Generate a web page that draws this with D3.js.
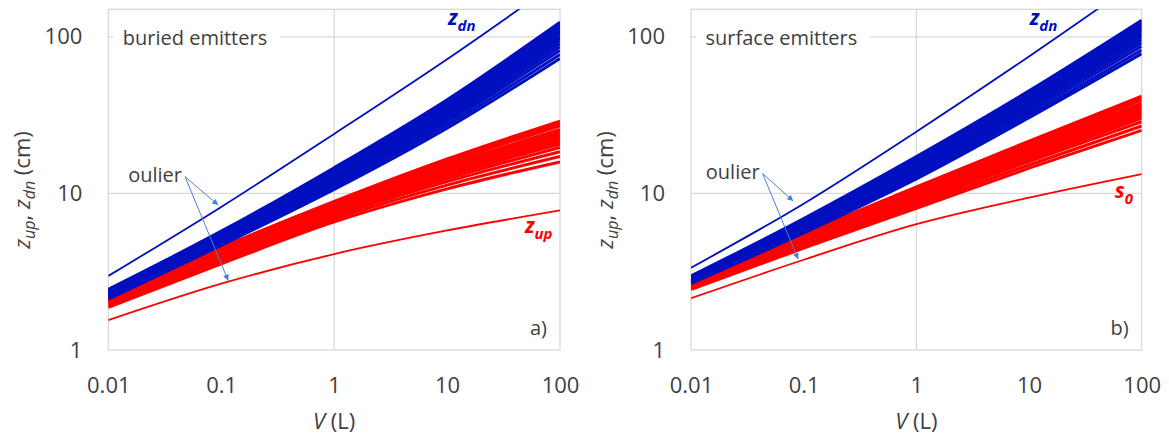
<!DOCTYPE html>
<html>
<head>
<meta charset="utf-8">
<script src="https://cdn.jsdelivr.net/npm/d3@7"></script>
<style>
  html, body { margin: 0; padding: 0; background: #fff; }
  svg { display: block; font-family: "Open Sans", sans-serif; }
</style>
</head>
<body>
<svg id="chart" width="1169" height="439"></svg>
<script>
// Emitter volumes V (L) at which every curve is sampled
const volumes = [0.01, 0.1, 1, 10, 100];

const xTicks = [0.01, 0.1, 1, 10, 100];
const xTickLabels = ["0.01", "0.1", "1", "10", "100"];
const yTicks = [1, 10, 100];
const yTickLabels = ["1", "10", "100"];

// a) buried emitters — downward extent z_dn (cm), one row per soil case
const zdnBuried = [
  [2.44, 5.74, 14.6, 39.7, 123.9],
  [2.42, 5.67, 14.3, 38.7, 120.0],
  [2.40, 5.60, 14.0, 37.8, 116.2],
  [2.38, 5.53, 13.8, 36.8, 112.6],
  [2.36, 5.46, 13.5, 35.9, 109.0],
  [2.34, 5.39, 13.3, 35.0, 105.6],
  [2.31, 5.31, 13.0, 34.0, 101.7],
  [2.29, 5.24, 12.7, 33.0, 98.0],
  [2.27, 5.16, 12.4, 32.0, 94.5],
  [2.24, 5.07, 12.1, 31.0, 90.5],
  [2.21, 4.98, 11.8, 29.8, 86.3],
  [2.18, 4.88, 11.4, 28.6, 81.8],
  [2.15, 4.76, 11.0, 27.3, 77.2],
  [2.11, 4.66, 10.6, 26.1, 72.8]
];
// a) buried emitters — upward extent z_up (cm)
const zupBuried = [
  [2.19, 4.52, 8.89, 16.6, 29.0],
  [2.17, 4.45, 8.73, 16.1, 28.0],
  [2.15, 4.39, 8.58, 15.7, 27.0],
  [2.12, 4.30, 8.35, 15.1, 25.6],
  [2.10, 4.23, 8.20, 14.7, 24.7],
  [2.08, 4.17, 8.05, 14.3, 23.8],
  [2.06, 4.11, 7.91, 13.9, 23.0],
  [2.04, 4.05, 7.77, 13.6, 22.2],
  [2.02, 4.00, 7.62, 13.2, 21.4],
  [2.00, 3.94, 7.49, 12.9, 20.6],
  [1.98, 3.86, 7.31, 12.4, 19.7],
  [1.95, 3.77, 7.09, 11.9, 18.5],
  [1.91, 3.66, 6.84, 11.3, 17.2],
  [1.87, 3.55, 6.58, 10.7, 15.9]
];
const zdnBuriedOutlier = [2.97, 8.2, 24.0, 72.0, 230.0];
const zupBuriedOutlier = [1.55, 2.65, 4.10, 5.8, 7.8];

// b) surface emitters — downward extent z_dn (cm)
const zdnSurface = [
  [2.97, 6.92, 17.2, 45.2, 127.6],
  [2.95, 6.83, 16.9, 44.1, 124.0],
  [2.93, 6.75, 16.5, 43.1, 120.3],
  [2.91, 6.66, 16.2, 42.1, 116.9],
  [2.89, 6.58, 15.9, 41.1, 113.5],
  [2.87, 6.49, 15.6, 40.2, 110.2],
  [2.85, 6.40, 15.2, 39.1, 106.5],
  [2.83, 6.30, 14.9, 38.0, 102.9],
  [2.81, 6.21, 14.6, 37.0, 99.4],
  [2.78, 6.11, 14.2, 35.8, 95.6],
  [2.76, 5.99, 13.8, 34.6, 91.5],
  [2.73, 5.87, 13.4, 33.2, 87.1],
  [2.69, 5.73, 12.9, 31.8, 82.5],
  [2.66, 5.60, 12.4, 30.5, 78.2]
];
// b) surface emitters — surface wetted radius s_0 (cm)
const s0Surface = [
  [2.80, 5.56, 11.0, 21.6, 41.8],
  [2.78, 5.49, 10.8, 21.1, 40.5],
  [2.75, 5.42, 10.6, 20.6, 39.3],
  [2.72, 5.31, 10.3, 19.9, 37.6],
  [2.70, 5.24, 10.1, 19.4, 36.5],
  [2.67, 5.17, 9.90, 18.9, 35.4],
  [2.65, 5.11, 9.71, 18.5, 34.4],
  [2.63, 5.04, 9.54, 18.0, 33.3],
  [2.61, 4.97, 9.36, 17.6, 32.4],
  [2.59, 4.91, 9.19, 17.2, 31.4],
  [2.56, 4.82, 8.96, 16.6, 30.2],
  [2.52, 4.72, 8.69, 16.0, 28.7],
  [2.48, 4.60, 8.37, 15.2, 27.0],
  [2.44, 4.47, 8.04, 14.5, 25.3]
];
const zdnSurfaceOutlier = [3.35, 8.6, 24.8, 75.0, 237.0];
const s0SurfaceOutlier = [2.14, 3.77, 6.36, 9.4, 13.3];

// "oulier" callouts: arrow tail and two heads, in (V, cm)
const calloutBuried = { tail: [0.0478, 12.8], heads: [[0.094, 8.43], [0.1154, 2.77]] };
const calloutSurface = { tail: [0.0432, 13.4], heads: [[0.0807, 8.95], [0.0893, 3.80]] };

const BLUE = "#0010c0";
const RED = "#ff0000";
const GRID = "#d9d9d9";
const INK = "#404040";
const ARROW = "#4a80cc";

const svg = d3.select("#chart");
const defs = svg.append("defs");
defs.append("marker")
  .attr("id", "arrowHead")
  .attr("viewBox", "0 0 10 10")
  .attr("refX", 10).attr("refY", 5)
  .attr("markerWidth", 8).attr("markerHeight", 6)
  .attr("markerUnits", "userSpaceOnUse")
  .attr("orient", "auto")
  .append("path").attr("d", "M0,0 L10,5 L0,10 Z").attr("fill", ARROW);

const TOP = 9.3, BOTTOM = 350;

function drawPanel(cfg) {
  const x = d3.scaleLog().domain([0.01, 100]).range([cfg.left, cfg.right]);
  const y = d3.scaleLog().domain([1, 150]).range([BOTTOM, TOP]);
  const g = svg.append("g");

  defs.append("clipPath").attr("id", cfg.id + "-clip")
    .append("rect")
    .attr("x", cfg.left).attr("y", TOP)
    .attr("width", cfg.right - cfg.left).attr("height", BOTTOM - TOP);

  // gridlines
  g.selectAll(".hgrid").data([10, 100]).join("line")
    .attr("x1", cfg.left).attr("x2", cfg.right)
    .attr("y1", d => y(d)).attr("y2", d => y(d))
    .attr("stroke", GRID).attr("stroke-width", 1.3);
  g.append("line")
    .attr("x1", x(1)).attr("x2", x(1))
    .attr("y1", TOP).attr("y2", BOTTOM)
    .attr("stroke", GRID).attr("stroke-width", 1.3);
  g.append("rect")
    .attr("x", cfg.left).attr("y", TOP)
    .attr("width", cfg.right - cfg.left).attr("height", BOTTOM - TOP)
    .attr("fill", "none").attr("stroke", GRID).attr("stroke-width", 1.3);

  // panel title with a white box interrupting the gridline
  const title = g.append("text")
    .attr("x", cfg.left + 14.5).attr("y", 44.5)
    .attr("font-size", 20).attr("fill", INK)
    .text(cfg.title);
  const bb = title.node().getBBox();
  g.insert("rect", "text")
    .attr("x", bb.x - 9.5).attr("y", bb.y - 2)
    .attr("width", bb.width + 22).attr("height", bb.height + 4)
    .attr("fill", "#fff");

  // axes
  const yAxis = g.append("g").attr("transform", `translate(${cfg.left},0)`)
    .call(d3.axisLeft(y).tickValues(yTicks)
      .tickFormat((d, i) => yTickLabels[i]).tickSize(0).tickPadding(26));
  const xAxis = g.append("g").attr("transform", `translate(0,${BOTTOM})`)
    .call(d3.axisBottom(x).tickValues(xTicks)
      .tickFormat((d, i) => xTickLabels[i]).tickSize(0).tickPadding(27));
  [yAxis, xAxis].forEach(a => {
    a.select(".domain").remove();
    a.selectAll("text").attr("font-size", 22).attr("fill", INK)
      .attr("font-family", '"Open Sans", sans-serif');
  });

  // axis titles
  const cx = (cfg.left + cfg.right) / 2;
  const xt = g.append("text").attr("x", cx).attr("y", 429)
    .attr("text-anchor", "middle").attr("font-size", 22).attr("fill", INK);
  xt.append("tspan").attr("font-style", "italic").text("V");
  xt.append("tspan").text(" (L)");

  const yt = g.append("text")
    .attr("transform", `translate(${cfg.left - 78},190) rotate(-90)`)
    .attr("text-anchor", "middle").attr("font-size", 22).attr("fill", INK);
  yt.append("tspan").attr("font-style", "italic").text("z");
  yt.append("tspan").attr("font-style", "italic").attr("font-size", 16).attr("dy", 5).text("up");
  yt.append("tspan").attr("dy", -5).text(", ");
  yt.append("tspan").attr("font-style", "italic").text("z");
  yt.append("tspan").attr("font-style", "italic").attr("font-size", 16).attr("dy", 5).text("dn");
  yt.append("tspan").attr("dy", -5).text(" (cm)");

  // curves
  const line = d3.line()
    .x((d, i) => x(volumes[i]))
    .y(d => y(d))
    .curve(d3.curveMonotoneX);
  const plot = g.append("g").attr("clip-path", `url(#${cfg.id}-clip)`);
  plot.append("path").datum(cfg.redOutlier).attr("d", line)
    .attr("fill", "none").attr("stroke", RED).attr("stroke-width", 1.8);
  plot.selectAll(".red").data(cfg.redBand).join("path")
    .attr("d", line).attr("fill", "none")
    .attr("stroke", RED).attr("stroke-width", 3);
  plot.selectAll(".blue").data(cfg.blueBand).join("path")
    .attr("d", line).attr("fill", "none")
    .attr("stroke", BLUE).attr("stroke-width", 3);
  plot.append("path").datum(cfg.blueOutlier).attr("d", line)
    .attr("fill", "none").attr("stroke", BLUE).attr("stroke-width", 1.8);

  // callout
  const [tv, tz] = cfg.callout.tail;
  cfg.callout.heads.forEach(([hv, hz]) => {
    g.append("line")
      .attr("x1", x(tv)).attr("y1", y(tz))
      .attr("x2", x(hv)).attr("y2", y(hz))
      .attr("stroke", ARROW).attr("stroke-width", 1)
      .attr("marker-end", "url(#arrowHead)");
  });
  g.append("text")
    .attr("x", x(tv) - 3).attr("y", y(tz) + 5.5)
    .attr("text-anchor", "end").attr("font-size", 20).attr("fill", INK)
    .text("oulier");

  // curve labels
  function richLabel(px, py, main, sub, color) {
    const t = g.append("text").attr("x", px).attr("y", py)
      .attr("font-size", 21).attr("font-weight", "bold")
      .attr("font-style", "italic").attr("fill", color);
    t.append("tspan").text(main);
    t.append("tspan").attr("font-size", 15).attr("dy", 6).text(sub);
  }
  richLabel(cfg.right - 112, 25, "z", "dn", BLUE);
  richLabel(cfg.right - cfg.redLabelOffset, cfg.redLabelY, cfg.redLabelMain, cfg.redLabelSub, RED);

  g.append("text")
    .attr("x", cfg.right - 13).attr("y", 335)
    .attr("text-anchor", "end").attr("font-size", 20).attr("fill", INK)
    .text(cfg.tag);
}

drawPanel({
  id: "buried", left: 108.3, right: 560, title: "buried emitters", tag: "a)",
  blueBand: zdnBuried, redBand: zupBuried,
  blueOutlier: zdnBuriedOutlier, redOutlier: zupBuriedOutlier,
  callout: calloutBuried,
  redLabelMain: "z", redLabelSub: "up", redLabelOffset: 35, redLabelY: 233
});
drawPanel({
  id: "surface", left: 691, right: 1141.7, title: "surface emitters", tag: "b)",
  blueBand: zdnSurface, redBand: s0Surface,
  blueOutlier: zdnSurfaceOutlier, redOutlier: s0SurfaceOutlier,
  callout: calloutSurface,
  redLabelMain: "s", redLabelSub: "0", redLabelOffset: 27, redLabelY: 198
});
</script>
</body>
</html>
